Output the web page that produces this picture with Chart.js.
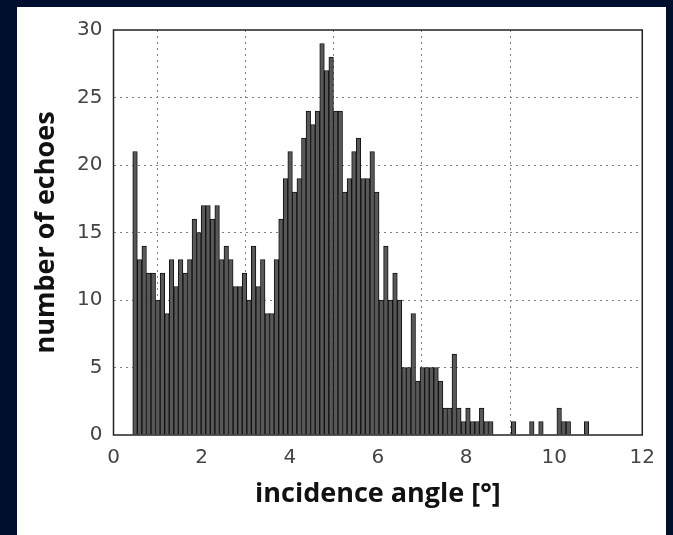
<!DOCTYPE html>
<html>
<head>
<meta charset="utf-8">
<script src="https://cdn.jsdelivr.net/npm/chart.js@4.4.0/dist/chart.umd.min.js"></script>
<style>
    html, body { margin: 0; padding: 0; background: #010f2e; }
    #painel { position: absolute; left: 17px; top: 7px; width: 649px; height: 528px; background: #ffffff; }
</style>
</head>
<body>
<div id="painel"><canvas id="grafico"></canvas></div>
<script>
// histograma: 100 bins de largura igual
const inicioBins = 0.437;
const larguraBin = 0.1035;
const contagens = [
    21, 13, 14, 12, 12, 10, 12, 9, 13, 11,
    13, 12, 13, 16, 15, 17, 17, 16, 17, 13,
    14, 13, 11, 11, 12, 10, 14, 11, 13, 9,
    9, 13, 16, 19, 21, 18, 19, 22, 24, 23,
    24, 29, 27, 28, 24, 24, 18, 19, 21, 22,
    19, 19, 21, 18, 10, 14, 10, 12, 10, 5,
    5, 9, 4, 5, 5, 5, 5, 4, 2, 2,
    6, 2, 1, 2, 1, 1, 2, 1, 1, 0,
    0, 0, 0, 1, 0, 0, 0, 1, 0, 1,
    0, 0, 0, 2, 1, 1, 0, 0, 0, 1
];
const limitesX = [0, 12];
const limitesY = [0, 30];
const passoX = 2;
const passoY = 5;
const tituloX = 'incidence angle [°]';
const tituloY = 'number of echoes';

function montarPontos(){
    return contagens.map((valor, i) => ({
        x: inicioBins + (i + 0.5) * larguraBin,
        y: valor
    }));
}

// moldura preta em volta da area do grafico
const moldura = {
    id: 'moldura',
    afterDatasetsDraw(chart){
        const {ctx, chartArea} = chart;
        ctx.save();
        ctx.strokeStyle = '#222';
        ctx.lineWidth = 1.5;
        ctx.strokeRect(chartArea.left, chartArea.top, chartArea.right - chartArea.left, chartArea.bottom - chartArea.top);
        ctx.restore();
    }
};

function gradeVisivel(ctx, limites){
    const v = ctx.tick ? ctx.tick.value : null;
    return (v === limites[0] || v === limites[1]) ? 'rgba(0,0,0,0)' : '#808080';
}

function setupHistograma(canvasId){
    const ctx = document.getElementById(canvasId).getContext('2d');
    const fonteTicks = {family: 'DejaVu Sans', size: 20};
    const fonteTitulo = {family: 'Open Sans', size: 27, weight: 'bold'};

    const config = {
        type: 'bar',
        data: {
            datasets: [{
                data: montarPontos(),
                backgroundColor: '#585858',
                borderColor: '#111111',
                borderWidth: 1,
                barPercentage: 1,
                categoryPercentage: 1
            }]
        },
        options: {
            responsive: true,
            maintainAspectRatio: false,
            animation: false,
            layout: {padding: {left: 0, right: 23.5, top: 16, bottom: 0}},
            plugins: {legend: {display: false}, tooltip: {enabled: false}},
            scales: {
                x: {
                    type: 'linear',
                    min: limitesX[0],
                    max: limitesX[1],
                    offset: false,
                    ticks: {stepSize: passoX, color: '#444', font: fonteTicks, padding: 11},
                    grid: {color: c => gradeVisivel(c, limitesX), drawTicks: false, borderDash: [2, 4]},
                    border: {display: false, dash: [2, 4]},
                    title: {display: true, text: tituloX, color: '#111', font: fonteTitulo, padding: {top: 0, bottom: 24}},
                    afterFit: escala => { escala.height = 100; }
                },
                y: {
                    min: limitesY[0],
                    max: limitesY[1],
                    ticks: {stepSize: passoY, color: '#444', font: fonteTicks, padding: 11},
                    grid: {color: c => gradeVisivel(c, limitesY), drawTicks: false, borderDash: [2, 4]},
                    border: {display: false, dash: [2, 4]},
                    title: {display: true, text: tituloY, color: '#111', font: fonteTitulo, padding: {top: 13, bottom: 0}},
                    afterFit: escala => { escala.width = 96.5; }
                }
            }
        },
        plugins: [moldura]
    };
    return new Chart(ctx, config);
}

setupHistograma('grafico');
</script>
</body>
</html>
